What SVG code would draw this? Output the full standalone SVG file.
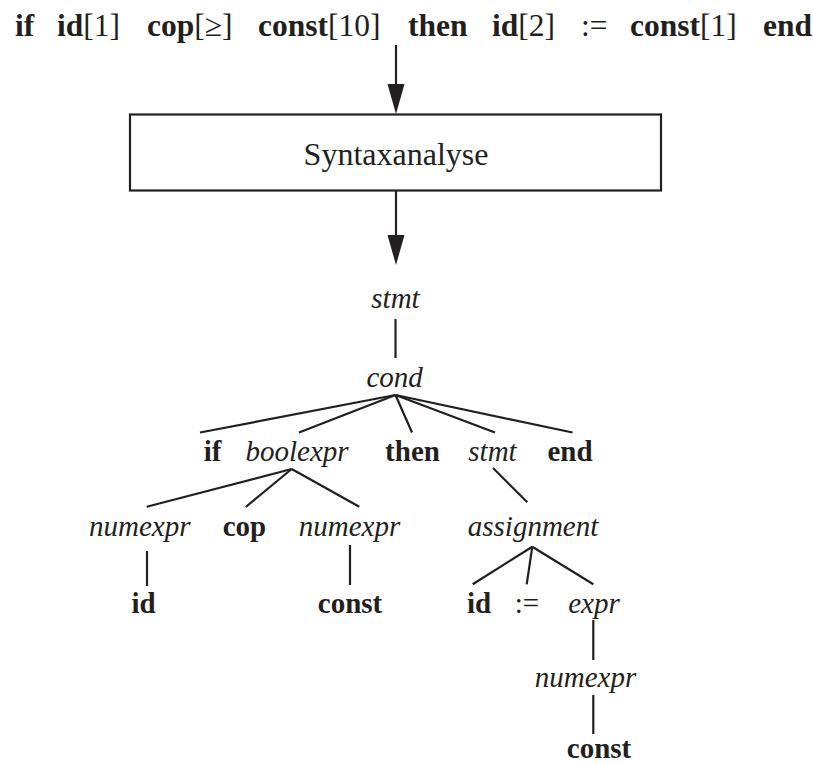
<svg xmlns="http://www.w3.org/2000/svg" width="813" height="765" viewBox="0 0 813 765">
<style>
text{font-family:"Liberation Serif","Times New Roman",serif;fill:#231f20}
.b{font-weight:bold}
.i{font-style:italic}
.top{font-size:31.5px}
.t{font-size:29px;text-anchor:middle}
.edge{stroke:#231f20;stroke-width:2.2;fill:none}
.head{fill:#231f20}
</style>
<g id="input">
<text class="top" y="36"><tspan x="15" class="b">if</tspan><tspan x="57" class="b">id</tspan><tspan>[1]</tspan><tspan x="147" class="b">cop</tspan><tspan>[≥]</tspan><tspan x="258" class="b">const</tspan><tspan>[10]</tspan><tspan x="408" class="b">then</tspan><tspan x="492" class="b">id</tspan><tspan>[2]</tspan><tspan x="581">:=</tspan><tspan x="630" class="b">const</tspan><tspan>[1]</tspan><tspan x="763" class="b">end</tspan></text>
</g>
<g id="syntaxanalyse">
<rect x="130" y="114.5" width="531" height="76" fill="none" stroke="#231f20" stroke-width="2.2"/>
<text x="396" y="164.5" style="font-size:32px;text-anchor:middle">Syntaxanalyse</text>
</g>
<g id="connectors">
<line class="edge" x1="396" y1="45" x2="396" y2="90"/>
<path class="head" d="M387.5,84 L404.5,84 L396,114 Z"/>
<line class="edge" x1="396" y1="191" x2="396" y2="240"/>
<path class="head" d="M387.5,235 L404.5,235 L396,265 Z"/>
<line class="edge" x1="395.5" y1="319" x2="395.5" y2="358"/>
<line class="edge" x1="395.5" y1="395" x2="200" y2="432.5"/>
<line class="edge" x1="395.5" y1="395" x2="299" y2="432.5"/>
<line class="edge" x1="395.5" y1="395" x2="412" y2="432.5"/>
<line class="edge" x1="395.5" y1="395" x2="495" y2="432.5"/>
<line class="edge" x1="395.5" y1="395" x2="572.5" y2="432.5"/>
<line class="edge" x1="291.7" y1="469" x2="146.7" y2="506.7"/>
<line class="edge" x1="291.7" y1="469" x2="245.7" y2="507"/>
<line class="edge" x1="291.7" y1="469" x2="359.3" y2="506.7"/>
<line class="edge" x1="493" y1="468" x2="527.3" y2="502.3"/>
<line class="edge" x1="147" y1="551" x2="147" y2="586"/>
<line class="edge" x1="350" y1="545" x2="350" y2="585"/>
<line class="edge" x1="532.3" y1="546.7" x2="472.7" y2="584.3"/>
<line class="edge" x1="532.3" y1="546.7" x2="526.7" y2="584.3"/>
<line class="edge" x1="532.3" y1="546.7" x2="593.3" y2="584.3"/>
<line class="edge" x1="593.3" y1="620" x2="593.3" y2="660"/>
<line class="edge" x1="593.3" y1="695" x2="593.3" y2="734"/>
</g>
<g id="n-stmt"><text class="t i" x="395.5" y="308">stmt</text></g>
<g id="n-cond"><text class="t i" x="394.7" y="386.7">cond</text></g>
<g id="n-if"><text class="t b" x="212.5" y="460.7">if</text></g>
<g id="n-boolexpr"><text class="t i" x="297" y="460.7">boolexpr</text></g>
<g id="n-then"><text class="t b" x="412.5" y="460.7">then</text></g>
<g id="n-stmt2"><text class="t i" x="492.5" y="460.7">stmt</text></g>
<g id="n-end"><text class="t b" x="570" y="460.7">end</text></g>
<g id="n-numexpr1"><text class="t i" x="139.7" y="536">numexpr</text></g>
<g id="n-cop"><text class="t b" x="244.5" y="536">cop</text></g>
<g id="n-numexpr2"><text class="t i" x="349.5" y="536">numexpr</text></g>
<g id="n-assignment"><text class="t i" x="533" y="536">assignment</text></g>
<g id="n-id1"><text class="t b" x="143.5" y="612.7">id</text></g>
<g id="n-const1"><text class="t b" x="350" y="612.7">const</text></g>
<g id="n-id2"><text class="t b" x="479" y="612.7">id</text></g>
<g id="n-assign"><text class="t" x="527" y="612.7">:=</text></g>
<g id="n-expr"><text class="t i" x="594" y="612.7">expr</text></g>
<g id="n-numexpr3"><text class="t i" x="585.5" y="687">numexpr</text></g>
<g id="n-const2"><text class="t b" x="599" y="758">const</text></g>
</svg>
